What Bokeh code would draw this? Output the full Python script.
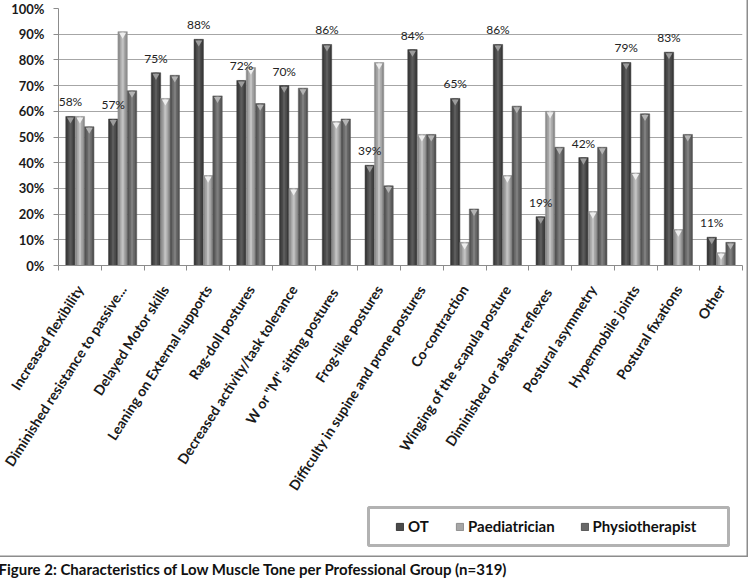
from bokeh.plotting import figure
from bokeh.models import (Range1d, LinearAxis, FixedTicker, PrintfTickFormatter,
                          CustomJSTickFormatter, Legend, LegendItem, Label,
                          BoxAnnotation, ColumnDataSource)
from bokeh.layouts import column
from bokeh.transform import dodge
from bokeh.core.properties import value
from bokeh.embed import file_html
from bokeh.resources import INLINE

categories = [
    "Increased flexibility",
    "Diminished resistance to passive...",
    "Delayed Motor skills",
    "Leaning on External supports",
    "Rag-doll postures",
    "Decreased activity/task tolerance",
    'W or "M"  sitting postures',
    "Frog-like postures",
    "Difficulty in supine and prone postures",
    "Co-contraction",
    "Winging of the scapula posture",
    "Diminished  or absent reflexes",
    "Postural asymmetry",
    "Hypermobile joints",
    "Postural fixations",
    "Other",
]
ot = [58, 57, 75, 88, 72, 70, 86, 39, 84, 65, 86, 19, 42, 79, 83, 11]
paed = [58, 91, 65, 35, 77, 30, 56, 79, 51, 9, 35, 60, 21, 36, 14, 5]
phys = [54, 68, 74, 66, 63, 69, 57, 31, 51, 22, 62, 46, 46, 59, 51, 9]
series_names = ["OT", "Paediatrician", "Physiotherapist"]
y_ticks = [0, 10, 20, 30, 40, 50, 60, 70, 80, 90, 100]
caption = "Figure 2: Characteristics of Low Muscle Tone per Professional Group (n=319)"

FONT = "Lato"
BOX_W = 752
ML, MR = 62, 6

src = ColumnDataSource(dict(
    x=list(range(len(categories))),
    ot=ot, paed=paed, phys=phys,
    ot_cap=[v - 1.2 for v in ot], paed_cap=[v - 1.2 for v in paed], phys_cap=[v - 1.2 for v in phys],
    ot_lbl=[f"{v}%" for v in ot],
))

# ---------------- main chart ----------------
p = figure(width=BOX_W, height=509, output_backend="svg", toolbar_location=None,
           x_range=Range1d(-0.5, len(categories) - 0.5), y_range=Range1d(0, 100),
           x_axis_location=None,
           min_border_left=ML, min_border_right=MR, min_border_top=12, min_border_bottom=240)
p.background_fill_color = "white"
p.border_fill_color = None
p.outline_line_color = None
p.xgrid.visible = False
p.ygrid.grid_line_color = "#a6a6a6"
p.ygrid.grid_line_width = 1
p.ygrid.ticker = FixedTicker(ticks=y_ticks)

ya = p.yaxis[0]
ya.ticker = FixedTicker(ticks=y_ticks)
ya.formatter = PrintfTickFormatter(format="%d%%")
ya.major_label_text_font = FONT
ya.major_label_text_font_style = "bold"
ya.major_label_text_font_size = "13px"
ya.major_label_text_color = "#1a1a1a"
ya.axis_line_color = "#8c8c8c"
ya.major_tick_line_color = "#8c8c8c"
ya.major_tick_in = 0
ya.major_tick_out = 5
ya.minor_tick_line_color = None
ya.major_label_standoff = 9

ax_ticks = LinearAxis(ticker=FixedTicker(ticks=[i - 0.5 for i in range(len(categories) + 1)]),
                      formatter=CustomJSTickFormatter(code="return ''"),
                      major_tick_in=0, major_tick_out=5, major_label_standoff=0,
                      major_tick_line_color="#8c8c8c", axis_line_color="#8c8c8c",
                      minor_tick_line_color=None)
p.add_layout(ax_ticks, "below")
ax_labels = LinearAxis(ticker=FixedTicker(ticks=list(range(len(categories)))),
                       major_label_overrides={i: c for i, c in enumerate(categories)},
                       major_label_orientation=1.0,
                       axis_line_color=None, major_tick_line_color=None,
                       minor_tick_line_color=None, major_label_standoff=10,
                       major_label_text_font=FONT, major_label_text_font_style="bold",
                       major_label_text_font_size="14px", major_label_text_color="#1a1a1a")
p.add_layout(ax_labels, "below")

off = 0.22
bw = 0.22
series_styles = [
    ("ot", -off, ["#3a3a3a", "#4a4a4a", "#5c5c5c"], "#9c9c9c"),
    ("paed", 0.0, ["#8e8e8e", "#a6a6a6", "#c2c2c2"], "#eeeeee"),
    ("phys", off, ["#555555", "#686868", "#7e7e7e"], "#b4b4b4"),
]
for col, dx, cols, capc in series_styles:
    xd = dodge("x", dx, range=p.x_range)
    p.vbar(x=xd, top=col, width=bw, bottom=0, source=src,
           fill_color=cols[0], line_color=cols[0], line_width=0.5)
    p.vbar(x=xd, top=col, width=bw * 0.6, bottom=0, source=src,
           fill_color=cols[1], line_color=None)
    p.vbar(x=xd, top=col, width=bw * 0.25, bottom=0, source=src,
           fill_color=cols[2], line_color=None)
    p.scatter(x=xd, y=col + "_cap", source=src, marker="inverted_triangle", size=7,
              fill_color=capc, line_color=None)

p.text(x=dodge("x", -off, range=p.x_range), y="ot", text="ot_lbl", source=src,
       y_offset=-7, text_align="center", text_baseline="bottom",
       text_font=value(FONT), text_font_size="12px", text_color="#222222")

# ---------------- legend strip ----------------
LF_H = 52
lf = figure(width=BOX_W, height=LF_H, output_backend="svg", toolbar_location=None,
            x_range=Range1d(0, 1), y_range=Range1d(0, 1),
            x_axis_location=None, y_axis_location=None,
            min_border_left=ML, min_border_right=MR, min_border_top=0, min_border_bottom=0)
lf.outline_line_color = None
lf.grid.visible = False
lf.background_fill_color = None
lf.border_fill_color = None
proxies = []
for (col, dx, cols, capc) in series_styles:
    proxies.append(lf.vbar(x="x", top=col, width=0.1, source=src, fill_color=cols[1],
                           line_color=cols[0], visible=False))
lf.add_layout(BoxAnnotation(left=372 - ML, right=732 - ML, bottom=12, top=50,
                            left_units="screen", right_units="screen",
                            bottom_units="screen", top_units="screen",
                            fill_alpha=0, line_color="black", line_width=3))
legend = Legend(items=[LegendItem(label=n, renderers=[r]) for n, r in zip(series_names, proxies)],
                location=(399 - ML, 21), orientation="horizontal",
                border_line_color=None, background_fill_alpha=0, inactive_fill_alpha=0,
                glyph_width=9, glyph_height=9, label_standoff=4, spacing=25,
                label_width=22, label_height=20, margin=0, padding=0,
                label_text_font=FONT, label_text_font_style="bold", label_text_font_size="15px",
                label_text_color="#111111")
lf.add_layout(legend)

box = column(p, lf, styles={"box-shadow": "inset 0 0 0 1.5px #8c8c8c", "background-color": "white"})

# ---------------- caption ----------------
cap = figure(width=753, height=22, output_backend="svg", toolbar_location=None,
             x_range=Range1d(0, 1), y_range=Range1d(0, 1),
             x_axis_location=None, y_axis_location=None, min_border=0)
cap.outline_line_color = None
cap.grid.visible = False
cap.add_layout(Label(x=2, y=11, x_units="screen", y_units="screen", text=caption,
                     text_font=FONT, text_font_style="bold", text_font_size="15px",
                     text_baseline="middle", text_color="#111111"))

root = column(box, cap, margin=(-4, 0, 0, -4))

open("out.html", "w").write(file_html(root, INLINE))
